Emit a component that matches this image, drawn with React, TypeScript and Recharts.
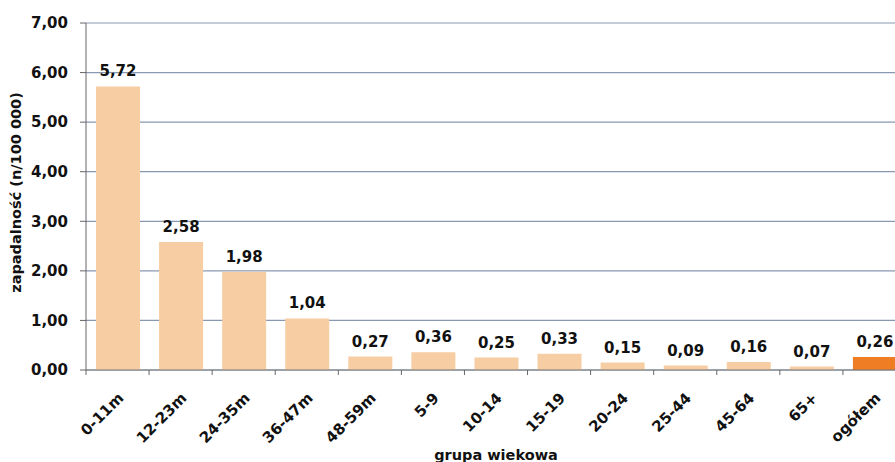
import { BarChart, Bar, XAxis, YAxis, CartesianGrid, Cell, LabelList, Label } from 'recharts'

const categories = ['0-11m', '12-23m', '24-35m', '36-47m', '48-59m', '5-9', '10-14', '15-19', '20-24', '25-44', '45-64', '65+', 'ogółem']
const values = [5.72, 2.58, 1.98, 1.04, 0.27, 0.36, 0.25, 0.33, 0.15, 0.09, 0.16, 0.07, 0.26]
const yTicks = [0, 1, 2, 3, 4, 5, 6, 7]

const data = categories.map((grupa, i) => ({ grupa, value: values[i] }))

const FONT = '"DejaVu Sans", Arial, sans-serif'
const W = 906
const H = 462
const LEFT = 86
const CAT_W = (W - LEFT) / categories.length

const fmt = (v: number) => v.toFixed(2).replace('.', ',')

const XTick = ({ x, y, payload }: any) => {
  const bx = x - CAT_W / 2
  const tx = x + 7
  const ty = y + 29
  return (
    <g>
      <line x1={bx} y1={y} x2={bx} y2={y + 5} stroke="#666" />
      <text
        x={tx}
        y={ty}
        transform={`rotate(-45 ${tx} ${ty})`}
        textAnchor="end"
        fontFamily={FONT}
        fontWeight="bold"
        fontSize={15}
        fill="#111"
      >
        {payload.value}
      </text>
    </g>
  )
}

const YTitle = ({ viewBox }: any) => {
  const cx = viewBox.x + 16
  const cy = viewBox.y + viewBox.height / 2 - 4
  return (
    <text
      x={cx}
      y={cy}
      transform={`rotate(-90 ${cx} ${cy})`}
      textAnchor="middle"
      dominantBaseline="central"
      fontFamily={FONT}
      fontWeight="bold"
      fontSize={14.5}
      fill="#111"
    >
      zapadalność (n/100 000)
    </text>
  )
}

export default function App() {
  return (
    <div style={{ position: 'absolute', left: 0, top: 0, width: 895, height: 462, overflow: 'hidden', background: '#fff' }}>
      <BarChart width={W} height={H} data={data} margin={{ top: 23, right: 0, left: 0, bottom: 0 }}>
        <CartesianGrid vertical={false} stroke="#8898b3" strokeWidth={1.2} />
        <XAxis
          dataKey="grupa"
          height={92}
          interval={0}
          tickSize={0}
          tickMargin={0}
          stroke="#777"
          tick={<XTick />}
        >
          <Label
            value="grupa wiekowa"
            position="insideBottom"
            offset={2}
            fontFamily={FONT}
            fontWeight="bold"
            fontSize={14.5}
            fill="#111"
          />
        </XAxis>
        <YAxis
          width={86}
          domain={[0, 7]}
          ticks={yTicks}
          tickFormatter={fmt}
          tickSize={6}
          tickMargin={12}
          stroke="#666"
          tick={{ fontFamily: FONT, fontWeight: 'bold', fontSize: 15, fill: '#111' }}
        >
          <Label content={<YTitle />} />
        </YAxis>
        <Bar dataKey="value" barSize={44} isAnimationActive={false}>
          {data.map((_, i) => (
            <Cell key={i} fill={i === data.length - 1 ? '#ee7d24' : '#f7cda3'} />
          ))}
          <LabelList
            dataKey="value"
            position="top"
            offset={10}
            formatter={(v: any) => fmt(Number(v))}
            fontFamily={FONT}
            fontWeight="bold"
            fontSize={15}
            fill="#111"
          />
        </Bar>
      </BarChart>
    </div>
  )
}
